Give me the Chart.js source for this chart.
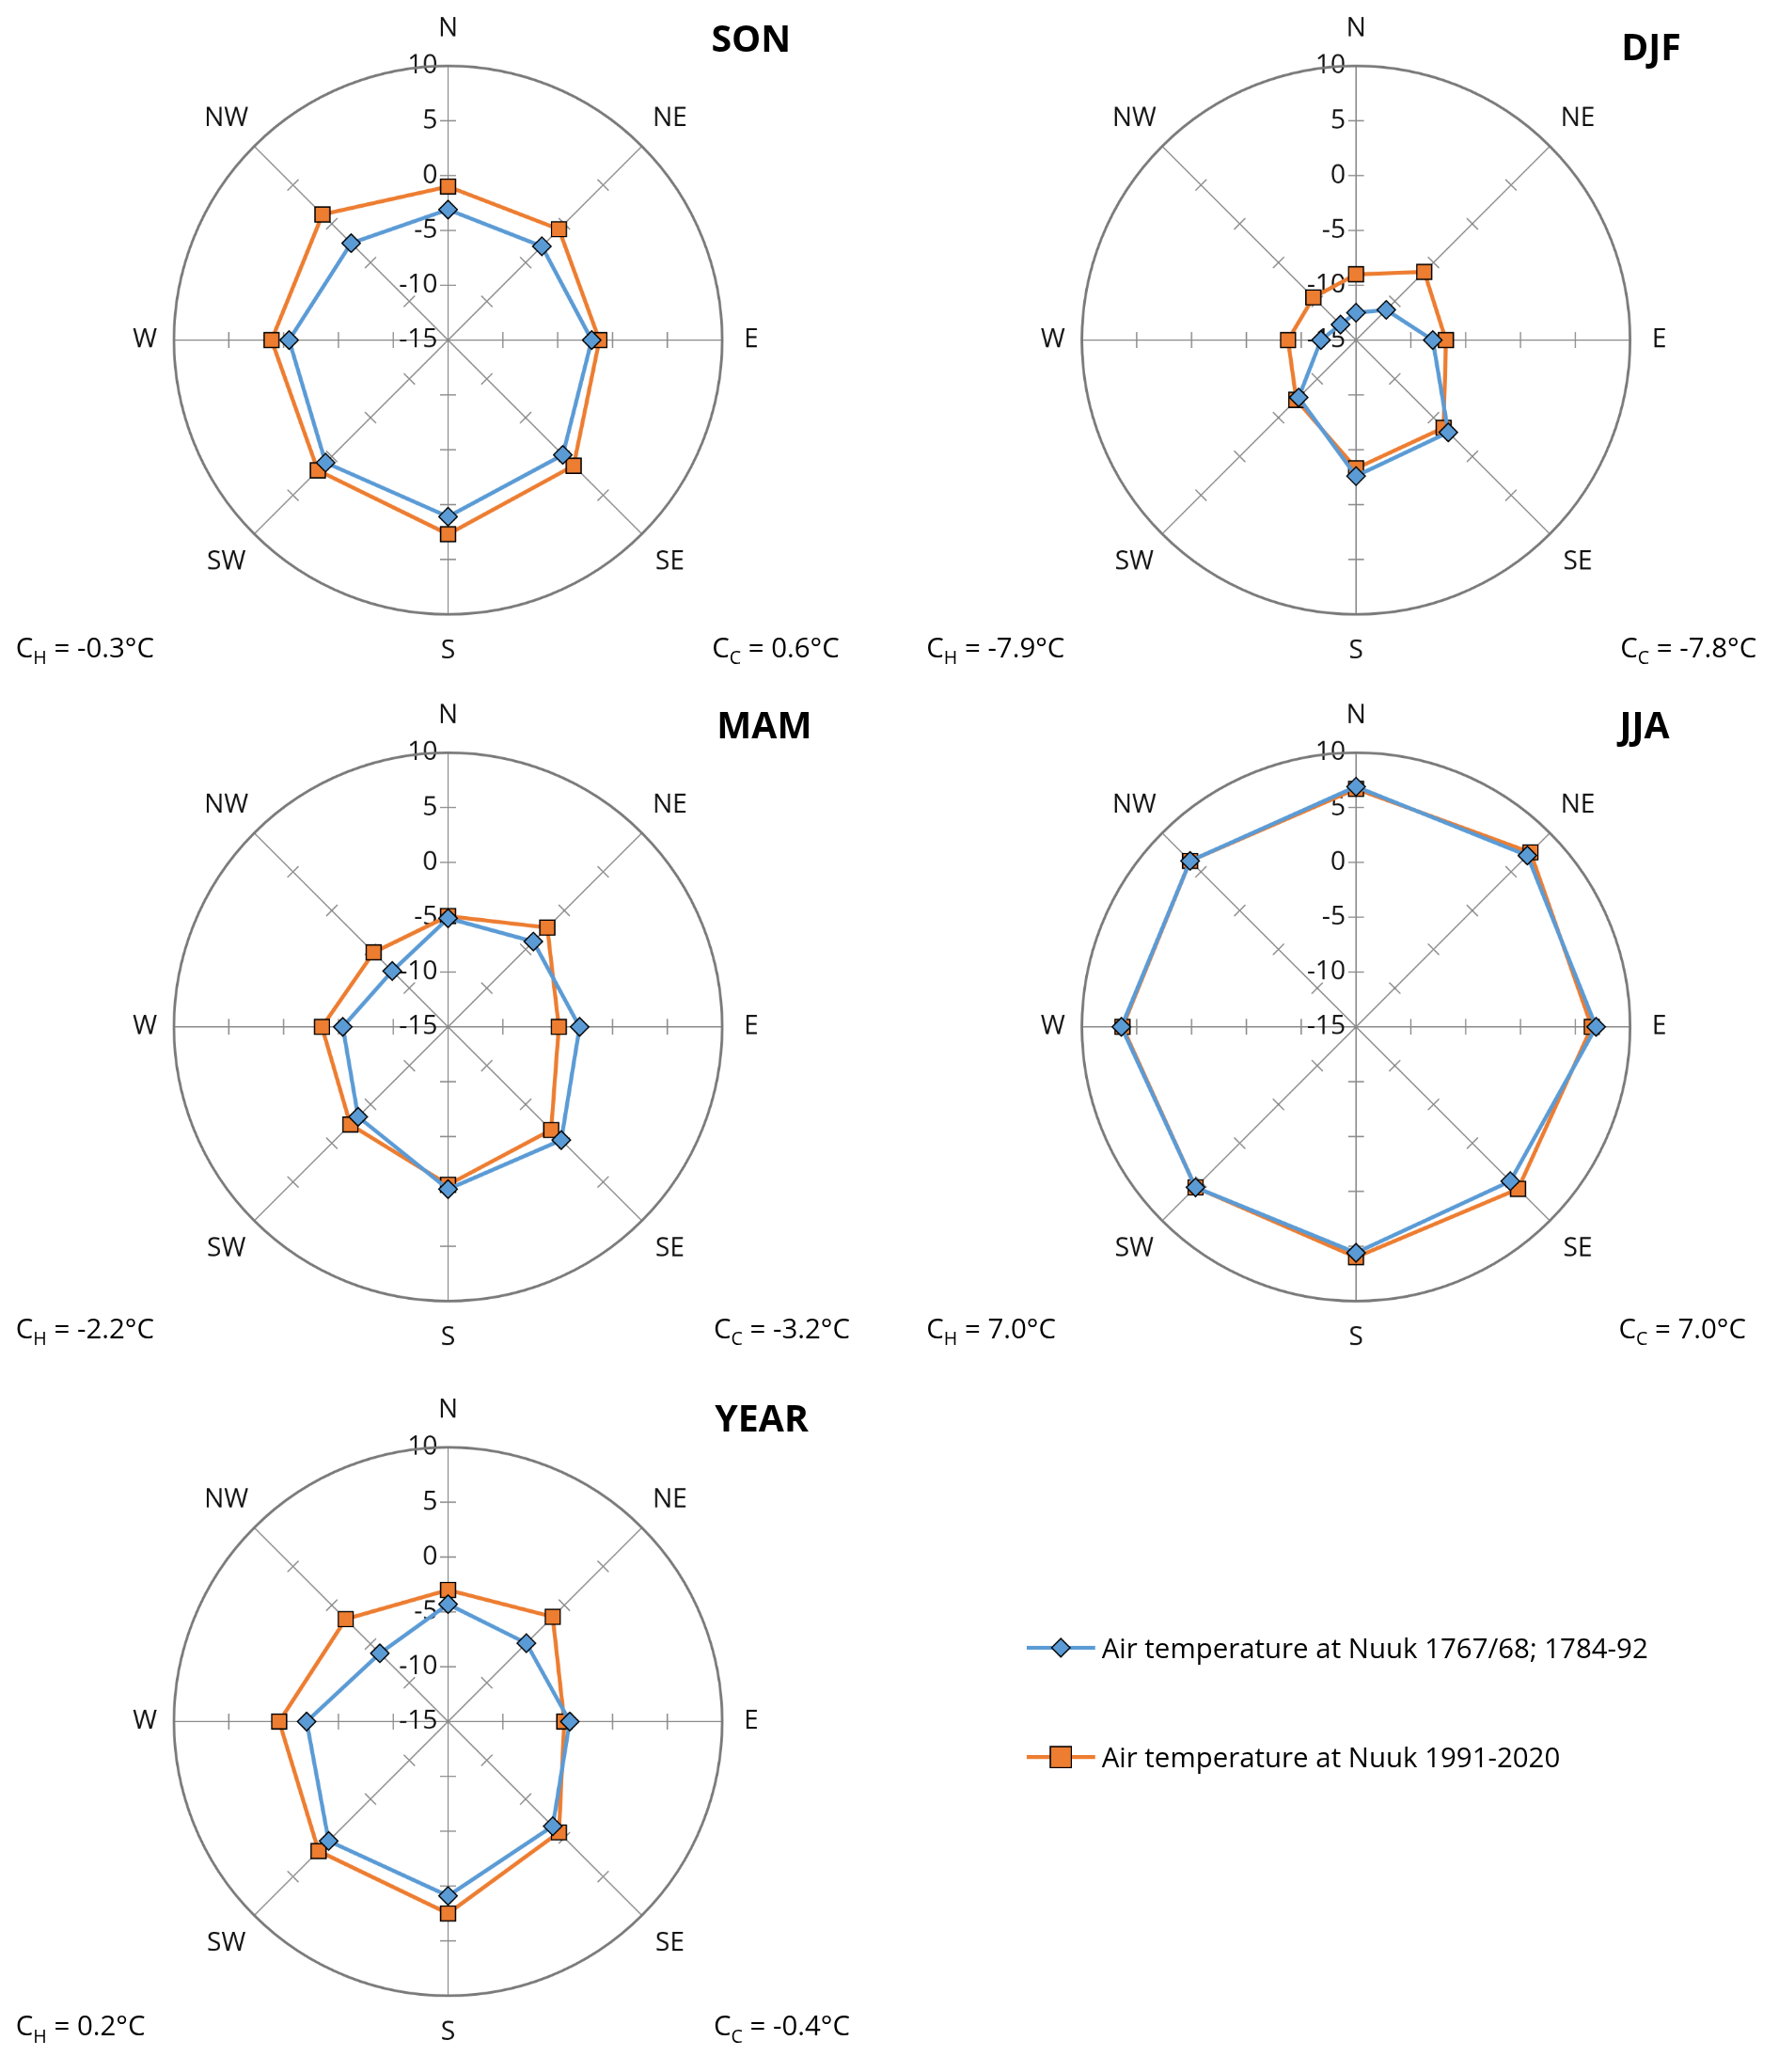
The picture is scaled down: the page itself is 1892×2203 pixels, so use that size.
<!DOCTYPE html><html><head><meta charset="utf-8">
<script src="https://cdn.jsdelivr.net/npm/chart.js@4"></script>
<style>
body{margin:0;background:#fff;font-family:"Open Sans",sans-serif;}
#wrap{position:absolute;left:0;top:0;width:1350px;height:1572px;transform:scale(1.4015);transform-origin:0 0;}
.c{position:absolute;width:560px;height:560px;}
.t{position:absolute;font-weight:bold;font-size:28px;transform:translate(-50%,-50%);}
.l{position:absolute;font-size:21px;transform:translateY(-50%);white-space:nowrap;}
.r{position:absolute;font-size:21px;transform:translate(-100%,-50%);white-space:nowrap;}
sub{font-size:14px;}
</style></head><body><div id="wrap"></div>
<script>
const directions=['N','NE','E','SE','S','SW','W','NW'];
const tickValues=[-15,-10,-5,0,5,10];
const seriesNames=['Air temperature at Nuuk 1767/68; 1784-92','Air temperature at Nuuk 1991-2020'];
const SON_hist=[-3.1,-2.9,-1.9,-0.2,1.1,0.8,-0.5,-2.5];
const SON_mod=[-1.0,-0.7,-1.2,1.2,2.7,1.8,1.1,1.2];
const DJF_hist=[-12.5,-11.1,-8.0,-3.1,-2.6,-7.6,-11.8,-13.0];
const DJF_mod=[-9.0,-6.2,-6.8,-3.7,-3.3,-7.3,-8.8,-9.5];
const MAM_hist=[-5.1,-4.0,-3.0,-0.4,-0.2,-3.4,-5.4,-7.8];
const MAM_mod=[-4.9,-2.2,-4.9,-1.7,-0.6,-2.4,-3.5,-5.4];
const JJA_hist=[6.9,7.1,6.9,4.9,5.6,5.7,6.4,6.4];
const JJA_mod=[6.7,7.5,6.5,5.9,6.0,5.7,6.3,6.4];
const YEAR_hist=[-4.3,-4.9,-3.9,-1.5,0.9,0.4,-2.1,-6.2];
const YEAR_mod=[-3.0,-1.5,-4.4,-0.7,2.5,1.7,0.4,-1.8];
const panels=[
 {title:'SON',h:SON_hist,m:SON_mod,cx:340,cy:258,tx:570,ty:28,ch:'-0.3',cc:'0.6',left:12,right:637,cy2:492},
 {title:'DJF',h:DJF_hist,m:DJF_mod,cx:1029,cy:258,tx:1253,ty:35,ch:'-7.9',cc:'-7.8',left:703,right:1333,cy2:492},
 {title:'MAM',h:MAM_hist,m:MAM_mod,cx:340,cy:779,tx:580,ty:549,ch:'-2.2',cc:'-3.2',left:12,right:645,cy2:1009},
 {title:'JJA',h:JJA_hist,m:JJA_mod,cx:1029,cy:779,tx:1248,ty:549,ch:'7.0',cc:'7.0',left:703,right:1325,cy2:1009},
 {title:'YEAR',h:YEAR_hist,m:YEAR_mod,cx:340,cy:1306,tx:578,ty:1075,ch:'0.2',cc:'-0.4',left:12,right:645,cy2:1538}
];
const wrap=document.getElementById('wrap');
const deco={id:'deco',
 beforeDatasetsDraw(ch){const s=ch.scales.r,c=ch.ctx;c.save();
  c.strokeStyle='#8a8a8a';c.lineWidth=1;
  for(let i=0;i<8;i++){const a=s.getIndexAngle(i)-Math.PI/2;const px=-Math.sin(a),py=Math.cos(a);
   tickValues.slice(1,5).forEach(v=>{const p=s.getPointPosition(i,s.getDistanceFromCenterForValue(v));
    c.beginPath();c.moveTo(p.x-px*6,p.y-py*6);c.lineTo(p.x+px*6,p.y+py*6);c.stroke();});}
  c.fillStyle='#111';c.font='20px "Open Sans"';c.textAlign='right';c.textBaseline='middle';
  tickValues.forEach(v=>{c.fillText(String(v),s.xCenter-8,s.yCenter-s.getDistanceFromCenterForValue(v));});
  c.restore();},
 afterDraw(ch){const s=ch.scales.r,c=ch.ctx;c.save();
  c.strokeStyle='#7a7a7a';c.lineWidth=2;c.beginPath();c.arc(s.xCenter,s.yCenter,s.drawingArea,0,Math.PI*2);c.stroke();
  c.fillStyle='#111';c.font='20px "Open Sans"';c.textAlign='center';c.textBaseline='middle';
  directions.forEach((d,i)=>{const r=s.drawingArea+((i%4===0)?28:(i%2===0)?22:30);
   const p=s.getPointPosition(i,r);c.fillText(d,p.x,p.y);});
  c.restore();}};
panels.forEach(p=>{
 const d=document.createElement('div');d.className='c';d.style.left=(p.cx-280)+'px';d.style.top=(p.cy-280)+'px';
 const cv=document.createElement('canvas');cv.width=560;cv.height=560;cv.style.width='560px';cv.style.height='560px';d.appendChild(cv);wrap.appendChild(d);
 const t=document.createElement('div');t.className='t';t.textContent=p.title;t.style.left=p.tx+'px';t.style.top=p.ty+'px';wrap.appendChild(t);
 const a=document.createElement('div');a.className='l';a.innerHTML='C<sub>H</sub> = '+p.ch+'°C';a.style.left=p.left+'px';a.style.top=p.cy2+'px';wrap.appendChild(a);
 const b=document.createElement('div');b.className='r';b.innerHTML='C<sub>C</sub> = '+p.cc+'°C';b.style.left=p.right+'px';b.style.top=p.cy2+'px';wrap.appendChild(b);
 new Chart(cv,{type:'radar',data:{labels:directions,datasets:[
  {label:seriesNames[0],data:p.h,borderColor:'#5b9bd5',backgroundColor:'#5b9bd5',borderWidth:3,pointStyle:'rectRot',pointRadius:7,pointBorderColor:'#000',pointBorderWidth:1,fill:false},
  {label:seriesNames[1],data:p.m,borderColor:'#ed7d31',backgroundColor:'#ed7d31',borderWidth:3,pointStyle:'rect',pointRadius:8,pointBorderColor:'#000',pointBorderWidth:1,fill:false}]},
  options:{responsive:false,animation:false,devicePixelRatio:2,layout:{padding:72},
   plugins:{legend:{display:false},tooltip:{enabled:false}},
   scales:{r:{min:-15,max:10,ticks:{display:false,stepSize:5},grid:{display:false},angleLines:{color:'#8a8a8a',lineWidth:1},pointLabels:{display:false}}}},
  plugins:[deco]});
});
// legend
[['#5b9bd5','rectRot',1250,0],['#ed7d31','rect',1333,1]].forEach(([col,st,y,i])=>{
 const cv=document.createElement('canvas');cv.width=120;cv.height=60;cv.style.cssText='position:absolute;left:775px;top:'+(y-15)+'px;width:60px;height:30px;';
 wrap.appendChild(cv);const c=cv.getContext('2d');c.scale(2,2);c.strokeStyle=col;c.lineWidth=3;c.beginPath();c.moveTo(4,15);c.lineTo(56,15);c.stroke();
 c.fillStyle=col;c.strokeStyle='#000';c.lineWidth=1;c.beginPath();
 if(st==='rect'){c.rect(22,7,16,16);}else{c.moveTo(30,8);c.lineTo(37,15);c.lineTo(30,22);c.lineTo(23,15);c.closePath();}
 c.fill();c.stroke();
 const t=document.createElement('div');t.className='l';t.textContent=seriesNames[i];t.style.left='836px';t.style.top=y+'px';wrap.appendChild(t);
});
</script></body></html>
